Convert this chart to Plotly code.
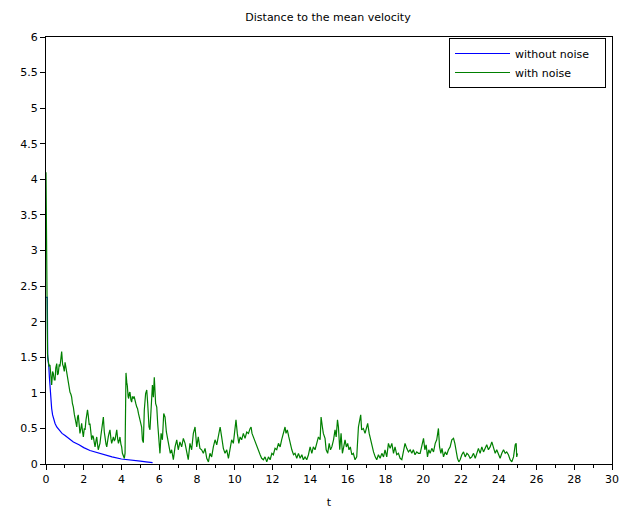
import plotly.graph_objects as go

# ---- data ----
blue_t = [0.00, 0.07, 0.09, 0.12, 0.15, 0.18, 0.21, 0.25, 0.30, 0.35, 0.40, 0.48, 0.57, 0.70,
          0.85, 1.01, 1.25, 1.45, 1.75, 2.00, 2.33, 2.70, 3.00, 3.50, 4.00, 4.50, 5.00, 5.30, 5.65]
blue_v = [2.34, 2.34, 1.50, 1.45, 1.37, 1.22, 1.08, 0.90, 0.78, 0.69, 0.64, 0.57, 0.52, 0.47,
          0.43, 0.40, 0.35, 0.31, 0.27, 0.23, 0.19, 0.16, 0.13, 0.10, 0.07, 0.05, 0.04, 0.03, 0.02]

seg_a_t = [0.00, 0.05, 0.08, 0.12, 0.16, 0.21, 0.26, 0.30, 0.35, 0.39,
           0.44, 0.48, 0.52, 0.57, 0.61, 0.65, 0.70, 0.74, 0.79, 0.83,
           0.88, 0.92, 0.97, 1.01, 1.06, 1.10, 1.14, 1.18, 1.23, 1.27,
           1.32, 1.36, 1.40, 1.45, 1.50, 1.54, 1.58, 1.63, 1.67, 1.71,
           1.76, 1.80, 1.85, 1.89, 1.94, 1.98, 2.03, 2.07, 2.12, 2.16,
           2.20, 2.24, 2.29, 2.33, 2.38, 2.42, 2.47, 2.51, 2.56, 2.60,
           2.65, 2.69, 2.73, 2.77, 2.82, 2.86, 2.90, 2.95, 3.00, 3.04,
           3.09, 3.13, 3.18, 3.22, 3.26, 3.30, 3.35, 3.39, 3.44, 3.48,
           3.53, 3.57, 3.62, 3.66, 3.71, 3.75, 3.80, 3.84, 3.88, 3.92,
           3.97, 4.01, 4.05, 4.10, 4.15, 4.19, 4.22, 4.24, 4.28, 4.31,
           4.35, 4.38, 4.42, 4.45, 4.50, 4.54, 4.58, 4.63, 4.67, 4.72,
           4.76, 4.81, 4.85, 4.90, 4.94]
seg_a_v = [4.10, 2.35, 1.55, 1.45, 1.38, 1.39, 1.15, 1.11, 1.30, 1.27,
           1.18, 1.18, 1.35, 1.41, 1.25, 1.27, 1.40, 1.37, 1.48, 1.58,
           1.40, 1.37, 1.30, 1.43, 1.35, 1.29, 1.20, 1.11, 1.05, 1.01,
           0.98, 0.94, 0.85, 0.80, 0.70, 0.64, 0.60, 0.52, 0.66, 0.69,
           0.55, 0.43, 0.50, 0.57, 0.45, 0.38, 0.50, 0.48, 0.62, 0.71,
           0.76, 0.68, 0.55, 0.57, 0.45, 0.34, 0.40, 0.38, 0.30, 0.24,
           0.33, 0.38, 0.28, 0.20, 0.25, 0.29, 0.38, 0.48, 0.60, 0.66,
           0.45, 0.34, 0.28, 0.24, 0.35, 0.38, 0.44, 0.48, 0.36, 0.29,
           0.34, 0.38, 0.33, 0.34, 0.42, 0.48, 0.35, 0.29, 0.33, 0.38,
           0.28, 0.24, 0.15, 0.10, 0.08, 0.15, 1.00, 1.28, 1.15, 1.10,
           0.95, 0.92, 1.00, 1.01, 0.90, 0.87, 0.95, 0.92, 0.95, 0.91,
           0.85, 0.80, 0.78, 0.71, 0.68]

seg_b_t = [4.98, 5.07, 5.11, 5.16, 5.21, 5.28, 5.34, 5.39, 5.46, 5.51,
           5.57, 5.64, 5.69, 5.74, 5.81, 5.87, 5.92, 5.99, 6.04, 6.10,
           6.17, 6.24, 6.31, 6.38, 6.45, 6.52, 6.59, 6.66, 6.75, 6.84,
           6.93, 7.01, 7.10, 7.19, 7.28, 7.37, 7.46, 7.54, 7.63, 7.72,
           7.81, 7.90, 7.99, 8.07, 8.16, 8.25, 8.34, 8.43, 8.52, 8.61,
           8.69, 8.78, 8.87, 8.96, 9.05, 9.14, 9.23, 9.31, 9.40, 9.49,
           9.58, 9.67]
seg_b_v = [0.62, 0.52, 0.34, 0.30, 0.76, 0.99, 1.04, 0.85, 0.52, 0.48,
           0.76, 1.11, 0.94, 1.22, 0.85, 0.80, 0.57, 0.29, 0.15, 0.43,
           0.34, 0.71, 0.66, 0.45, 0.34, 0.24, 0.15, 0.20, 0.06, 0.24,
           0.34, 0.20, 0.31, 0.24, 0.36, 0.29, 0.13, 0.06, 0.29, 0.20,
           0.43, 0.52, 0.24, 0.38, 0.22, 0.20, 0.15, 0.22, 0.08, 0.03,
           0.15, 0.10, 0.24, 0.34, 0.27, 0.43, 0.52, 0.38, 0.22, 0.15,
           0.20, 0.08]

seg_c_t = [9.76, 9.84, 9.93, 10.02, 10.07, 10.14, 10.22, 10.29, 10.37, 10.46,
           10.55, 10.64, 10.73, 10.82, 10.87, 10.92, 10.99, 11.08, 11.17, 11.26,
           11.35, 11.43, 11.52, 11.61, 11.70, 11.79, 11.88, 11.97, 12.05, 12.14,
           12.23, 12.32, 12.41, 12.49, 12.58, 12.67, 12.72, 12.79, 12.87, 12.94,
           13.03, 13.12, 13.20, 13.29, 13.38, 13.47, 13.56, 13.64, 13.73, 13.82,
           13.91, 14.00, 14.09, 14.17, 14.26, 14.35, 14.44, 14.53, 14.58, 14.65,
           14.70]
seg_c_v = [0.20, 0.34, 0.29, 0.52, 0.62, 0.43, 0.29, 0.38, 0.34, 0.43,
           0.36, 0.45, 0.43, 0.50, 0.52, 0.43, 0.38, 0.31, 0.24, 0.17,
           0.13, 0.08, 0.06, 0.10, 0.03, 0.10, 0.06, 0.15, 0.13, 0.22,
           0.20, 0.29, 0.24, 0.34, 0.43, 0.52, 0.43, 0.48, 0.38, 0.29,
           0.20, 0.13, 0.15, 0.08, 0.15, 0.08, 0.13, 0.06, 0.10, 0.06,
           0.13, 0.24, 0.15, 0.24, 0.20, 0.29, 0.38, 0.34, 0.66, 0.52,
           0.43]

seg_d_t = [14.79, 14.85, 14.93, 15.01, 15.08, 15.15, 15.24, 15.32, 15.38, 15.45,
           15.50, 15.57, 15.64, 15.71, 15.78, 15.85, 15.92, 15.99, 16.06, 16.13,
           16.21, 16.29, 16.38, 16.47, 16.56, 16.63, 16.68, 16.73, 16.82, 16.91,
           17.00, 17.05, 17.13, 17.20, 17.27, 17.36, 17.45, 17.53, 17.62, 17.71,
           17.80, 17.89, 17.97, 18.06, 18.15, 18.24, 18.33, 18.42, 18.50, 18.59,
           18.68, 18.77, 18.86, 18.95, 19.03, 19.12, 19.21, 19.30, 19.39, 19.47,
           19.56, 19.65, 19.74]
seg_d_v = [0.36, 0.20, 0.15, 0.29, 0.20, 0.24, 0.34, 0.48, 0.38, 0.62,
           0.52, 0.20, 0.43, 0.15, 0.24, 0.34, 0.24, 0.29, 0.20, 0.24,
           0.13, 0.15, 0.06, 0.10, 0.52, 0.62, 0.69, 0.48, 0.50, 0.43,
           0.52, 0.57, 0.43, 0.34, 0.24, 0.17, 0.10, 0.06, 0.13, 0.08,
           0.15, 0.10, 0.20, 0.10, 0.29, 0.22, 0.29, 0.15, 0.24, 0.13,
           0.15, 0.08, 0.06, 0.20, 0.29, 0.22, 0.17, 0.20, 0.15, 0.20,
           0.13, 0.17, 0.15]

seg_e_t = [19.83, 19.92, 20.01, 20.08, 20.15, 20.22, 20.29, 20.36, 20.45, 20.54,
           20.63, 20.71, 20.80, 20.86, 20.93, 20.99, 21.07, 21.16, 21.24, 21.33,
           21.42, 21.51, 21.60, 21.67, 21.74, 21.81, 21.88, 21.95, 22.04, 22.13,
           22.22, 22.31, 22.39, 22.48, 22.57, 22.66, 22.75, 22.84, 22.92, 23.01,
           23.10, 23.19, 23.28, 23.36, 23.45, 23.54, 23.63, 23.72, 23.81, 23.89,
           23.98, 24.07, 24.16, 24.25, 24.34, 24.42, 24.51, 24.60, 24.69, 24.78,
           24.87, 24.92, 24.95, 24.99]
seg_e_v = [0.15, 0.24, 0.36, 0.20, 0.27, 0.10, 0.20, 0.15, 0.22, 0.17,
           0.29, 0.34, 0.50, 0.24, 0.15, 0.22, 0.10, 0.17, 0.13, 0.20,
           0.24, 0.34, 0.36, 0.29, 0.15, 0.08, 0.03, 0.06, 0.13, 0.17,
           0.10, 0.15, 0.13, 0.08, 0.10, 0.15, 0.08, 0.17, 0.22, 0.15,
           0.24, 0.17, 0.22, 0.27, 0.20, 0.24, 0.31, 0.22, 0.15, 0.20,
           0.13, 0.08, 0.15, 0.20, 0.15, 0.17, 0.13, 0.06, 0.03, 0.10,
           0.27, 0.29, 0.10, 0.15]

green_t = seg_a_t + seg_b_t + seg_c_t + seg_d_t + seg_e_t
green_v = seg_a_v + seg_b_v + seg_c_v + seg_d_v + seg_e_v

FONT = "DejaVu Sans"
NB = "\u00a0"

fig = go.Figure()
fig.add_trace(go.Scatter(x=blue_t, y=blue_v, mode="lines", name="without noise" + NB * 3,
                         line=dict(color="#0000ff", width=1.2)))
fig.add_trace(go.Scatter(x=green_t, y=green_v, mode="lines", name="with noise",
                         line=dict(color="#008000", width=1.2)))

axis_common = dict(showgrid=False, zeroline=False, showline=True, linecolor="black",
                   linewidth=1, mirror=True, ticks="outside", tickcolor="black",
                   ticklen=5, tickwidth=1, tickfont=dict(family=FONT, size=11, color="black"))

W, H = 620, 510
fig.update_layout(
    width=W, height=H,
    margin=dict(l=46, r=8, t=37, b=46),
    paper_bgcolor="white", plot_bgcolor="white",
    font=dict(family=FONT, size=11, color="black"),
    title=dict(text="Distance to the mean velocity", x=328 / W, xanchor="center",
               y=1 - 17 / H, yanchor="middle", font=dict(family=FONT, size=11, color="black")),
    xaxis=dict(range=[0, 30], tick0=0, dtick=2,
               minor=dict(dtick=1, ticks="outside", ticklen=3, tickcolor="black"),
               title=dict(text="t", standoff=13, font=dict(family=FONT, size=11)),
               automargin=False, **axis_common),
    yaxis=dict(range=[0, 6], tick0=0, dtick=0.5, automargin=False, **axis_common),
    legend=dict(x=0.9894, y=0.9977, xanchor="right", yanchor="top",
                bgcolor="white", bordercolor="black", borderwidth=1,
                font=dict(family=FONT, size=11, color="black"),
                itemwidth=55, tracegroupgap=0),
    showlegend=True,
)

fig.write_html(
    "out.html",
    config={"displayModeBar": False},
    post_script="document.body.style.margin='0';document.body.style.overflow='hidden';"
                "document.documentElement.style.overflow='hidden';",
)
